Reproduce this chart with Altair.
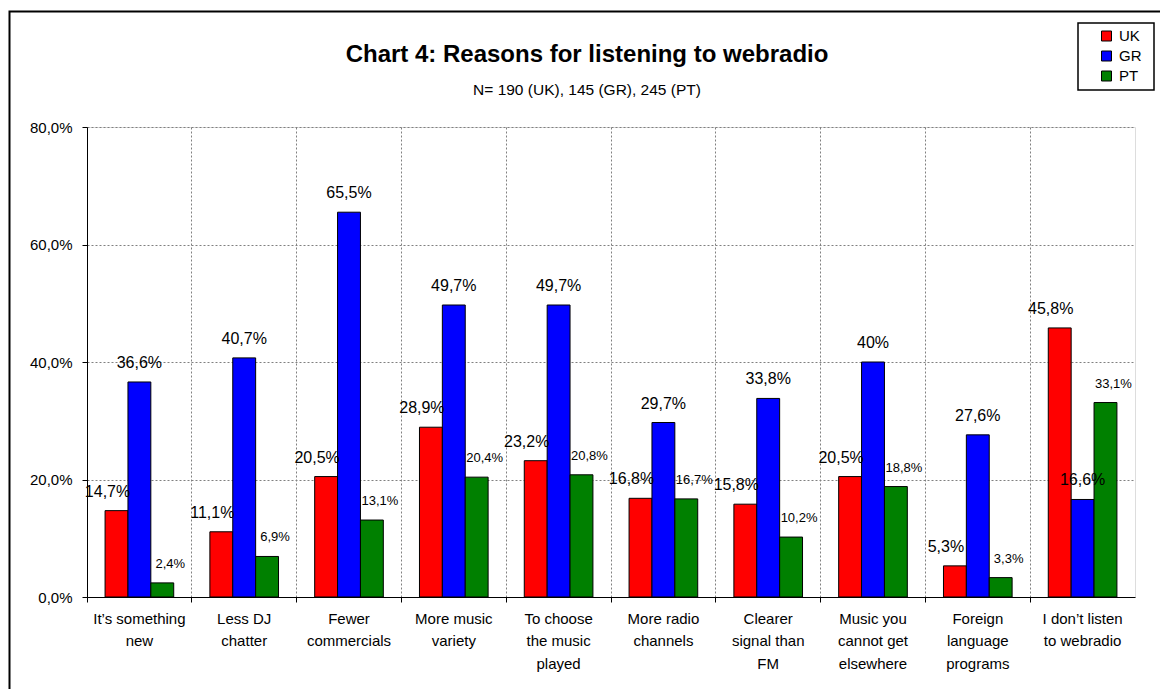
import altair as alt
import pandas as pd

FONT = "Liberation Sans"

categories = [
    "It’s something|new",
    "Less DJ|chatter",
    "Fewer|commercials",
    "More music|variety",
    "To choose|the music|played",
    "More radio|channels",
    "Clearer|signal than|FM",
    "Music you|cannot get|elsewhere",
    "Foreign|language|programs",
    "I don’t listen|to webradio",
]
series = ["UK", "GR", "PT"]
colors = ["#FF0000", "#0000FF", "#008000"]

uk = [14.7, 11.1, 20.5, 28.9, 23.2, 16.8, 15.8, 20.5, 5.3, 45.8]
gr = [36.6, 40.7, 65.5, 49.7, 49.7, 29.7, 33.8, 40.0, 27.6, 16.6]
pt = [2.4, 6.9, 13.1, 20.4, 20.8, 16.7, 10.2, 18.8, 3.3, 33.1]

uk_labels = ["14,7%", "11,1%", "20,5%", "28,9%", "23,2%", "16,8%", "15,8%", "20,5%", "5,3%", "45,8%"]
gr_labels = ["36,6%", "40,7%", "65,5%", "49,7%", "49,7%", "29,7%", "33,8%", "40%", "27,6%", "16,6%"]
pt_labels = ["2,4%", "6,9%", "13,1%", "20,4%", "20,8%", "16,7%", "10,2%", "18,8%", "3,3%", "33,1%"]

y_ticks = [0, 20, 40, 60, 80]

rows = []
for s, vals, labs in zip(series, [uk, gr, pt], [uk_labels, gr_labels, pt_labels]):
    for c, v, l in zip(categories, vals, labs):
        rows.append({"cat": c, "series": s, "value": v, "label": l})
df = pd.DataFrame(rows)

W, H = 1048, 470

x_enc = alt.X(
    "cat:N",
    sort=categories,
    scale=alt.Scale(paddingInner=0, paddingOuter=0),
    axis=alt.Axis(
        title=None,
        bandPosition=0,
        labelAngle=0,
        labelExpr="split(datum.label, '|')",
        labelFontSize=15,
        labelLineHeight=22.7,
        labelFont=FONT,
        labelColor="black",
        labelBaseline="top",
        labelPadding=9,
        tickColor="black",
        tickSize=5,
        domainColor="black",
        grid=True,
        gridColor="#808080",
        gridDash=[2, 2],
    ),
)
xoff = alt.XOffset("series:N", sort=series, scale=alt.Scale(paddingInner=0, paddingOuter=0.79))
y_enc = alt.Y(
    "value:Q",
    scale=alt.Scale(domain=[0, 80], nice=False),
    axis=alt.Axis(
        title=None,
        values=y_ticks,
        labelExpr="replace(format(datum.value, '.1f'), '.', ',') + '%'",
        labelFontSize=15,
        labelFont=FONT,
        labelColor="black",
        labelPadding=10,
        tickColor="black",
        tickSize=5,
        domainColor="black",
        grid=True,
        gridColor="#808080",
        gridDash=[2, 2],
    ),
)
color_enc = alt.Color(
    "series:N",
    sort=series,
    scale=alt.Scale(domain=series, range=colors),
    legend=alt.Legend(
        title=None,
        orient="none",
        legendX=1012,
        legendY=-98.5,
        direction="vertical",
        padding=0,
        symbolType="square",
        symbolSize=100,
        symbolStrokeColor="black",
        symbolStrokeWidth=1,
        labelFontSize=15,
        labelFont=FONT,
        labelColor="black",
        labelOffset=5,
        rowPadding=4,
    ),
)

# outer chart frame and legend frame (decoration)
border = alt.Chart(pd.DataFrame({"k": [0]})).mark_rect(
    fill="transparent", stroke="black", strokeWidth=2
).encode(
    x=alt.value(-77.5), x2=alt.value(1200), y=alt.value(-115.5), y2=alt.value(700)
)
legend_box = alt.Chart(pd.DataFrame({"k": [0]})).mark_rect(
    fill="white", stroke="black", strokeWidth=1.5
).encode(
    x=alt.value(991), x2=alt.value(1067), y=alt.value(-104), y2=alt.value(-37)
)

bars = alt.Chart(df).mark_bar(stroke="black", strokeWidth=1).encode(
    x=x_enc, xOffset=xoff, y=y_enc, color=color_enc
)


def text_layer(s, dx, dy, size):
    return (
        alt.Chart(df)
        .transform_filter(alt.datum.series == s)
        .mark_text(dx=dx, dy=dy, fontSize=size, baseline="alphabetic", font=FONT, color="black")
        .encode(x=alt.X("cat:N", sort=categories), xOffset=alt.XOffset("series:N", sort=series), y="value:Q", text="label:N")
    )


t_uk = text_layer("UK", -9, -14, 16)
t_gr = text_layer("GR", 0, -14, 16)
t_pt = text_layer("PT", 8, -15, 13)

chart = (
    alt.layer(border, legend_box, bars, t_uk, t_gr, t_pt)
    .properties(
        width=W,
        height=H,
        title=alt.TitleParams(
            text="Chart 4: Reasons for listening to webradio",
            subtitle="N= 190 (UK), 145 (GR), 245 (PT)",
            fontSize=24,
            fontWeight="bold",
            font=FONT,
            color="black",
            subtitleFontSize=15.5,
            subtitleFont=FONT,
            subtitleColor="black",
            subtitlePadding=16,
            anchor="middle",
            dx=-24,
            offset=-87.5,
        ),
        autosize=alt.AutoSizeParams(type="none"),
        padding={"left": 87, "top": 127, "right": 25, "bottom": 92},
    )
    .configure_view(stroke="#808080", strokeDash=[2, 2])
    .configure(background="white", font=FONT)
)

chart.save("out.html", embed_options={"renderer": "svg", "actions": False})
